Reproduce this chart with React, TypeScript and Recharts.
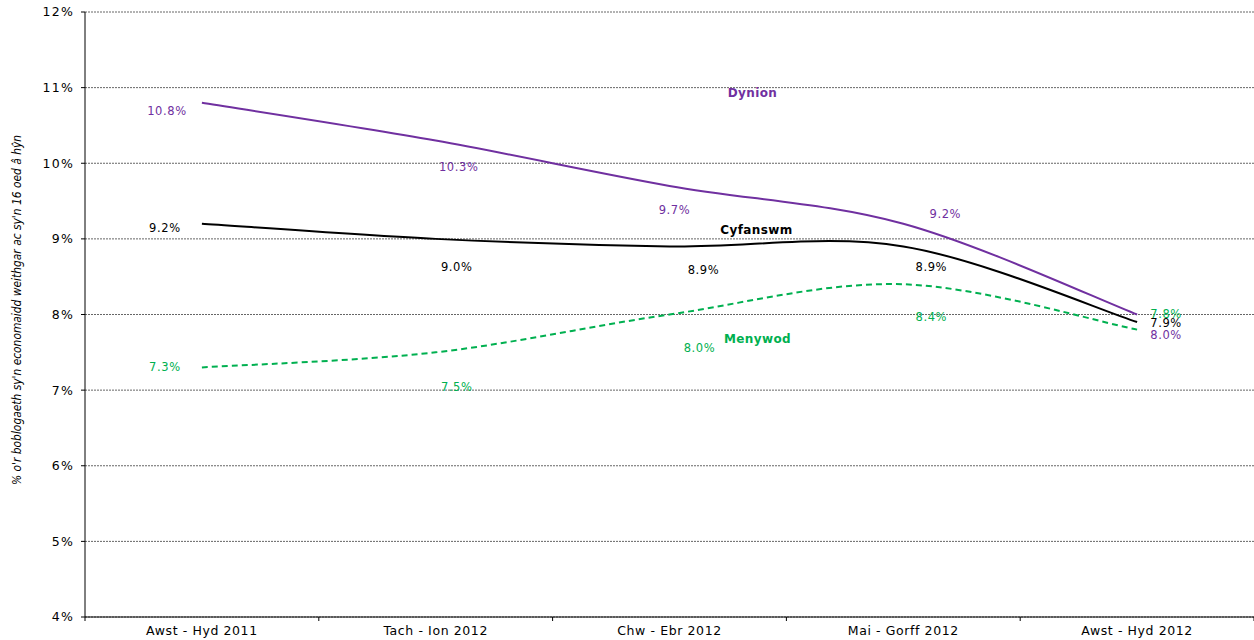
import { LineChart, Line, XAxis, YAxis, CartesianGrid } from "recharts";

const categories = [
  "Awst - Hyd 2011",
  "Tach - Ion 2012",
  "Chw - Ebr 2012",
  "Mai - Gorff 2012",
  "Awst - Hyd 2012",
];
const dynion = [10.8, 10.3, 9.7, 9.2, 8.0];
const cyfanswm = [9.2, 9.0, 8.9, 8.9, 7.9];
const menywod = [7.3, 7.5, 8.0, 8.4, 7.8];
const yTicks = [4, 5, 6, 7, 8, 9, 10, 11, 12];
const xTicks = [-0.5, 0, 0.5, 1, 1.5, 2, 2.5, 3, 3.5, 4, 4.5];

const data = categories.map((name, i) => ({
  i,
  name,
  dynion: dynion[i],
  cyfanswm: cyfanswm[i],
  menywod: menywod[i],
}));

// label nudges, Excel left them in odd spots
const labelOffsets: Record<string, [number, number][]> = {
  dynion: [[-35, 8], [23, 26], [5, 24], [42, -10], [29, 20]],
  cyfanswm: [[-37, 4], [21, 28], [34, 24], [28, 21], [29, 1]],
  menywod: [[-37, 0], [21, 35], [30, 33], [28, 33], [29, -16]],
};
const seriesNames: Record<string, { text: string; dx: number; dy: number }> = {
  dynion: { text: "Dynion", dx: 83, dy: -93 },
  cyfanswm: { text: "Cyfanswm", dx: 87, dy: -16 },
  menywod: { text: "Menywod", dx: 88, dy: 24 },
};

const PURPLE = "#7030A0";
const GREEN = "#00B050";
const FONT = "DejaVu Sans, sans-serif";

// excel-ish smoothed line (catmull-rom as bezier)
function excelSmooth(context: any) {
  let pts: number[][] = [];
  return {
    areaStart() {},
    areaEnd() {},
    lineStart() {
      pts = [];
    },
    point(x: number, y: number) {
      pts.push([+x, +y]);
    },
    lineEnd() {
      if (!pts.length) return;
      context.moveTo(pts[0][0], pts[0][1]);
      for (let k = 0; k < pts.length - 1; k++) {
        const p0 = pts[k - 1] || pts[k];
        const p1 = pts[k];
        const p2 = pts[k + 1];
        const p3 = pts[k + 2] || p2;
        context.bezierCurveTo(
          p1[0] + (p2[0] - p0[0]) / 6,
          p1[1] + (p2[1] - p0[1]) / 6,
          p2[0] - (p3[0] - p1[0]) / 6,
          p2[1] - (p3[1] - p1[1]) / 6,
          p2[0],
          p2[1]
        );
      }
    },
  };
}

function makeLabel(key: string, color: string) {
  return (props: any) => {
    const { x, y, value, index } = props;
    const [dx, dy] = labelOffsets[key][index] || [0, 0];
    const nm = seriesNames[key];
    return (
      <g key={`${key}-${index}`}>
        <text
          x={x + dx}
          y={y + dy}
          textAnchor="middle"
          dominantBaseline="central"
          fontFamily={FONT}
          fontSize={11.5}
          letterSpacing={0.6}
          fill={color}
        >
          {`${Number(value).toFixed(1)}%`}
        </text>
        {index === 2 && (
          <text
            x={x + nm.dx}
            y={y + nm.dy}
            textAnchor="middle"
            dominantBaseline="central"
            fontFamily={FONT}
            fontSize={12}
            fontWeight="bold"
            letterSpacing={0.4}
            fill={color}
          >
            {nm.text}
          </text>
        )}
      </g>
    );
  };
}

function XTick(props: any) {
  const { x, y, payload } = props;
  const v = payload.value;
  if (Number.isInteger(v)) {
    return (
      <text
        x={x}
        y={y + 18}
        textAnchor="middle"
        fontFamily={FONT}
        fontSize={12.5}
        letterSpacing={0.6}
        fill="#000"
      >
        {categories[v]}
      </text>
    );
  }
  return <line x1={x} y1={y} x2={x} y2={y + 4} stroke="#000" />;
}

function YLabel() {
  return (
    <text
      x={16}
      y={310}
      transform="rotate(-90, 16, 310)"
      textAnchor="middle"
      dominantBaseline="central"
      fontFamily="DejaVu Sans Condensed, sans-serif"
      fontStyle="italic"
      fontSize={12.5}
      textLength={350}
      lengthAdjust="spacingAndGlyphs"
      fill="#000"
    >
      % o'r boblogaeth sy'n economaidd weithgar ac sy'n 16 oed â hŷn
    </text>
  );
}

export default function App() {
  return (
    <div style={{ position: "absolute", left: 0, top: 0, background: "#fff" }}>
      <LineChart width={1254} height={640} data={data} margin={{ top: 12, right: 0, left: 0, bottom: 0 }}>
        <CartesianGrid vertical={false} stroke="#666" strokeDasharray="2 1" />
        <XAxis
          dataKey="i"
          type="number"
          domain={[-0.5, 4.5]}
          ticks={xTicks}
          interval={0}
          height={23}
          tickLine={false}
          tickSize={0}
          tickMargin={0}
          axisLine={{ stroke: "#000" }}
          tick={<XTick />}
        />
        <YAxis
          domain={[4, 12]}
          ticks={yTicks}
          interval={0}
          width={85}
          tickSize={4}
          tickMargin={7}
          tickFormatter={(v: number) => `${v}%`}
          tick={{ fontFamily: FONT, fontSize: 12.5, fill: "#000", letterSpacing: 1.2 }}
          tickLine={{ stroke: "#000" }}
          axisLine={{ stroke: "#000" }}
          label={<YLabel />}
        />
        <Line
          dataKey="dynion"
          type={excelSmooth as any}
          stroke={PURPLE}
          strokeWidth={2}
          dot={false}
          isAnimationActive={false}
          label={makeLabel("dynion", PURPLE)}
        />
        <Line
          dataKey="cyfanswm"
          type={excelSmooth as any}
          stroke="#000"
          strokeWidth={2}
          dot={false}
          isAnimationActive={false}
          label={makeLabel("cyfanswm", "#000")}
        />
        <Line
          dataKey="menywod"
          type={excelSmooth as any}
          stroke={GREEN}
          strokeWidth={2}
          strokeDasharray="6 4"
          dot={false}
          isAnimationActive={false}
          label={makeLabel("menywod", GREEN)}
        />
      </LineChart>
    </div>
  );
}
